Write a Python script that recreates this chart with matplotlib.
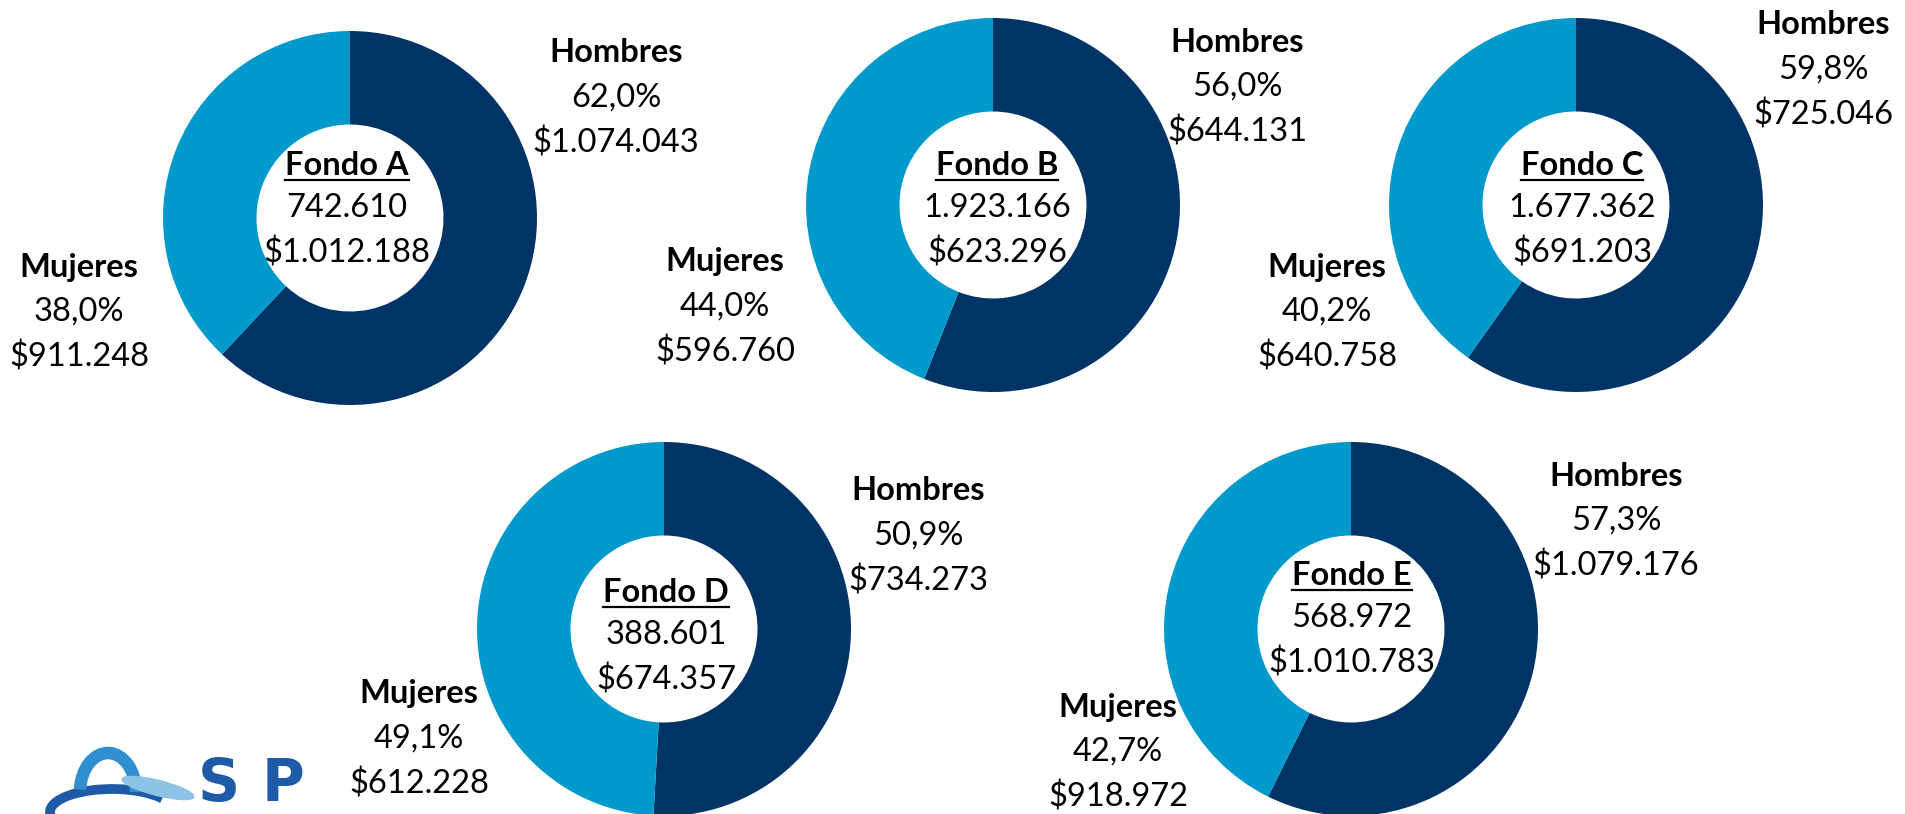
import numpy as np
import matplotlib.pyplot as plt
from matplotlib.patches import Arc, Ellipse

plt.rcParams['font.family'] = ['Lato', 'DejaVu Sans']

# data
fondos = ['A', 'B', 'C', 'D', 'E']
afiliados = [742610, 1923166, 1677362, 388601, 568972]
monto_total = [1012188, 623296, 691203, 674357, 1010783]
pct_hombres = [62.0, 56.0, 59.8, 50.9, 57.3]
pct_mujeres = [38.0, 44.0, 40.2, 49.1, 42.7]
monto_hombres = [1074043, 644131, 725046, 734273, 1079176]
monto_mujeres = [911248, 596760, 640758, 612228, 918972]

# layout (pixel coords, y measured from top)
W, H = 1905, 814
donut_xy = [(350, 218), (993, 205), (1576, 205), (664, 629), (1351, 629)]
donut_r = 187
center_txt = [(347, 208), (997, 208), (1582, 208), (666, 635), (1352, 618)]
hom_txt = [(616, 98), (1237, 87), (1823, 70), (918, 536), (1616, 521)]
muj_txt = [(79, 312), (725, 307), (1327, 312), (419, 739), (1118, 752)]
line_gap = 45

c_dark = '#003466'
c_light = '#0099CC'
fs = 23.5


def pct(v):
    return f'{v:.1f}'.replace('.', ',') + '%'


def miles(v):
    return f'{v:,}'.replace(',', '.')


fig = plt.figure(figsize=(W / 100, H / 100), dpi=100)
ax = fig.add_axes([0, 0, 1, 1])

for i, f in enumerate(fondos):
    cx, cy = donut_xy[i]
    ax.pie([pct_hombres[i], pct_mujeres[i]], colors=[c_dark, c_light],
           startangle=90, counterclock=False, center=(cx, H - cy),
           radius=donut_r, wedgeprops=dict(width=donut_r / 2, linewidth=0))

ax.set_xlim(0, W)
ax.set_ylim(0, H)
ax.set_aspect('auto')
ax.axis('off')


def block(x, y, title, l2, l3):
    ax.text(x, H - (y - line_gap), title, ha='center', va='center',
            fontsize=fs, fontweight='bold', color='black')
    ax.text(x, H - y, l2, ha='center', va='center', fontsize=fs, color='black')
    ax.text(x, H - (y + line_gap), l3, ha='center', va='center', fontsize=fs, color='black')


renderer = fig.canvas.get_renderer()
for i, f in enumerate(fondos):
    x, y = center_txt[i]
    t = ax.text(x, H - (y - 33), f'Fondo {f}', ha='center', va='baseline',
                fontsize=fs, fontweight='bold', color='black')
    bb = t.get_window_extent(renderer)
    ax.plot([bb.x0, bb.x1], [H - (y - 28), H - (y - 28)], color='black', lw=1.6)
    ax.text(x, H - y, miles(afiliados[i]), ha='center', va='center', fontsize=fs)
    ax.text(x, H - (y + line_gap), '$' + miles(monto_total[i]), ha='center',
            va='center', fontsize=fs)

    hx, hy = hom_txt[i]
    block(hx, hy, 'Hombres', pct(pct_hombres[i]), '$' + miles(monto_hombres[i]))
    mx, my = muj_txt[i]
    block(mx, my, 'Mujeres', pct(pct_mujeres[i]), '$' + miles(monto_mujeres[i]))

# logo (rough sketch, bottom-left)
ax.add_patch(Arc((112, H - 812), 124, 46, theta1=15, theta2=205,
                 color='#1f5aa6', lw=7))
ax.add_patch(Arc((108, H - 792), 56, 78, theta1=0, theta2=175,
                 color='#2f8fd0', lw=9))
ax.add_patch(Ellipse((158, H - 788), 74, 15, angle=-14, color='#8cc3e6'))
for ch, lx in zip('SP', [198, 262]):
    ax.text(lx, 1, ch, ha='left', va='bottom', fontsize=42,
            fontweight='heavy', color='#1f5aa6', family='DejaVu Sans')

fig.savefig('out.png', dpi=100)
